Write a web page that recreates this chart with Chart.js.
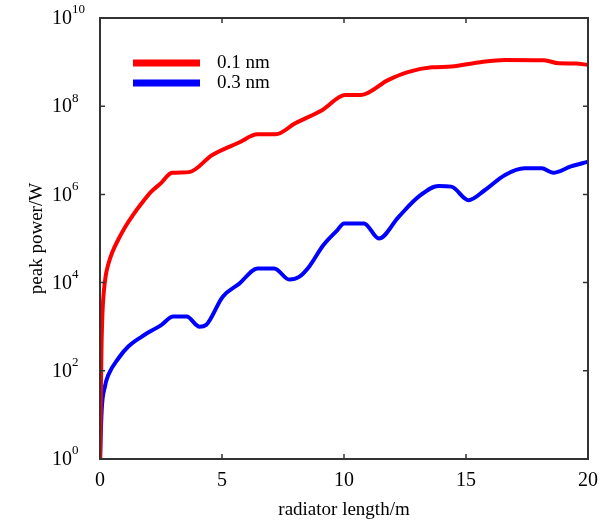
<!DOCTYPE html>
<html>
<head>
<meta charset="utf-8">
<script src="https://cdn.jsdelivr.net/npm/chart.js@4"></script>
<style>
  html, body { margin: 0; padding: 0; background: #fff; }
  #wrap { width: 608px; height: 522px; }
</style>
</head>
<body>
<div id="wrap"><canvas id="powerChart" width="608" height="522"></canvas></div>
<script>
// radiator length (m) and peak power (W)
const redLength = [0.01, 0.03, 0.06, 0.1, 0.16, 0.24, 0.34, 0.5, 0.75, 1.05, 1.35, 1.7, 2.1, 2.5, 2.95, 3.65, 4.6, 5.7, 6.45, 7.2, 8.0, 9.1, 10.05, 10.7, 11.8, 12.65, 13.6, 14.4, 15.5, 16.6, 18.2, 18.8, 19.5, 20];
const redPower = [1, 20, 300, 2000, 6500, 1.5e4, 2.6e4, 4.8e4, 9.5e4, 1.9e5, 3.4e5, 6.2e5, 1.15e6, 1.8e6, 3.1e6, 3.2e6, 7.8e6, 1.5e7, 2.3e7, 2.3e7, 4.1e7, 8.1e7, 1.8e8, 1.8e8, 3.9e8, 6e8, 7.6e8, 7.9e8, 9.8e8, 1.12e9, 1.1e9, 9.4e8, 9.3e8, 8.6e8];

const blueLength = [0, 0.07, 0.2, 0.34, 0.75, 1.16, 1.7, 2.52, 3.0, 3.55, 4.08, 4.35, 5.03, 5.71, 6.46, 7.14, 7.76, 8.16, 8.57, 9.15, 9.73, 10.0, 10.82, 11.43, 12.24, 13.06, 13.88, 14.4, 15.1, 15.78, 16.6, 17.4, 18.1, 18.57, 19.3, 20];
const bluePower = [1, 13, 44, 80, 190, 355, 590, 1100, 1700, 1700, 1000, 1100, 4800, 9500, 2.1e4, 2.1e4, 1.17e4, 1.35e4, 2.3e4, 7e4, 1.55e5, 2.2e5, 2.2e5, 1.0e5, 3.1e5, 8.9e5, 1.55e6, 1.5e6, 7.4e5, 1.26e6, 2.75e6, 3.9e6, 3.9e6, 3.1e6, 4.3e6, 5.5e6];

const seriesNames = ['0.1 nm', '0.3 nm'];
const xTicks = [0, 5, 10, 15, 20];
const yExponents = [0, 2, 4, 6, 8, 10];

const serif = '"Liberation Serif", "Times New Roman", serif';
const axisColor = '#333';

function toPoints(xs, ys) {
  return xs.map((x, i) => ({ x: x, y: ys[i] }));
}

// box, inward ticks, y labels with superscripts, legend inside the plot
const framePlugin = {
  id: 'frame',
  afterDraw(chart) {
    const ctx = chart.ctx;
    const a = chart.chartArea;
    const xs = chart.scales.x;
    const ys = chart.scales.y;
    ctx.save();
    ctx.strokeStyle = axisColor;
    ctx.lineWidth = 2;
    ctx.strokeRect(a.left, a.top, a.right - a.left, a.bottom - a.top);

    ctx.lineWidth = 1.5;
    const tl = 5;
    xTicks.forEach(v => {
      const px = xs.getPixelForValue(v);
      ctx.beginPath();
      ctx.moveTo(px, a.bottom); ctx.lineTo(px, a.bottom - tl);
      ctx.moveTo(px, a.top); ctx.lineTo(px, a.top + tl);
      ctx.stroke();
    });
    yExponents.forEach(e => {
      const py = ys.getPixelForValue(Math.pow(10, e));
      ctx.beginPath();
      ctx.moveTo(a.left, py); ctx.lineTo(a.left + tl, py);
      ctx.moveTo(a.right, py); ctx.lineTo(a.right - tl, py);
      ctx.stroke();

      ctx.fillStyle = '#000';
      ctx.textBaseline = 'middle';
      ctx.textAlign = 'right';
      ctx.font = '20px ' + serif;
      ctx.fillText('10', 72, py + 1);
      ctx.textAlign = 'left';
      ctx.font = '13px ' + serif;
      ctx.fillText(String(e), 72, py - 8);
    });

    // legend
    const colors = chart.data.datasets.map(d => d.borderColor);
    seriesNames.forEach((name, i) => {
      const ly = 63 + i * 20;
      ctx.strokeStyle = colors[i];
      ctx.lineWidth = 7;
      ctx.beginPath();
      ctx.moveTo(133, ly); ctx.lineTo(200, ly);
      ctx.stroke();
      ctx.fillStyle = '#000';
      ctx.font = '19px ' + serif;
      ctx.textAlign = 'left';
      ctx.textBaseline = 'middle';
      ctx.fillText(name, 217, ly);
    });
    ctx.restore();
  }
};

const powerChart = new Chart(document.getElementById('powerChart').getContext('2d'), {
  type: 'line',
  data: {
    datasets: [{
      label: seriesNames[0],
      data: toPoints(redLength, redPower),
      borderColor: '#ff0000',
      borderWidth: 4,
      pointRadius: 0,
      cubicInterpolationMode: 'monotone'
    }, {
      label: seriesNames[1],
      data: toPoints(blueLength, bluePower),
      borderColor: '#0000ff',
      borderWidth: 4,
      pointRadius: 0,
      cubicInterpolationMode: 'monotone'
    }]
  },
  options: {
    responsive: false,
    animation: false,
    layout: { padding: { left: 0, top: 18, right: 18, bottom: 0 } },
    scales: {
      x: {
        type: 'linear',
        min: 0,
        max: 20,
        afterFit(s) { s.height = 63; },
        afterBuildTicks(s) { s.ticks = xTicks.map(v => ({ value: v })); },
        grid: { display: false, drawTicks: false },
        border: { display: false },
        ticks: {
          color: '#000',
          font: { family: serif, size: 20 },
          padding: 10,
          maxRotation: 0
        },
        title: {
          display: true,
          text: 'radiator length/m',
          color: '#000',
          font: { family: serif, size: 19 },
          padding: { top: 0, bottom: 1 }
        }
      },
      y: {
        type: 'logarithmic',
        min: 1,
        max: 1e10,
        afterFit(s) { s.width = 100; },
        afterBuildTicks(s) { s.ticks = yExponents.map(e => ({ value: Math.pow(10, e) })); },
        grid: { display: false, drawTicks: false },
        border: { display: false },
        ticks: { display: false },
        title: {
          display: true,
          text: 'peak power/W',
          color: '#000',
          font: { family: serif, size: 19 },
          padding: { top: 26, bottom: 0 }
        }
      }
    },
    plugins: {
      legend: { display: false },
      tooltip: { enabled: false }
    }
  },
  plugins: [framePlugin]
});
</script>
</body>
</html>
